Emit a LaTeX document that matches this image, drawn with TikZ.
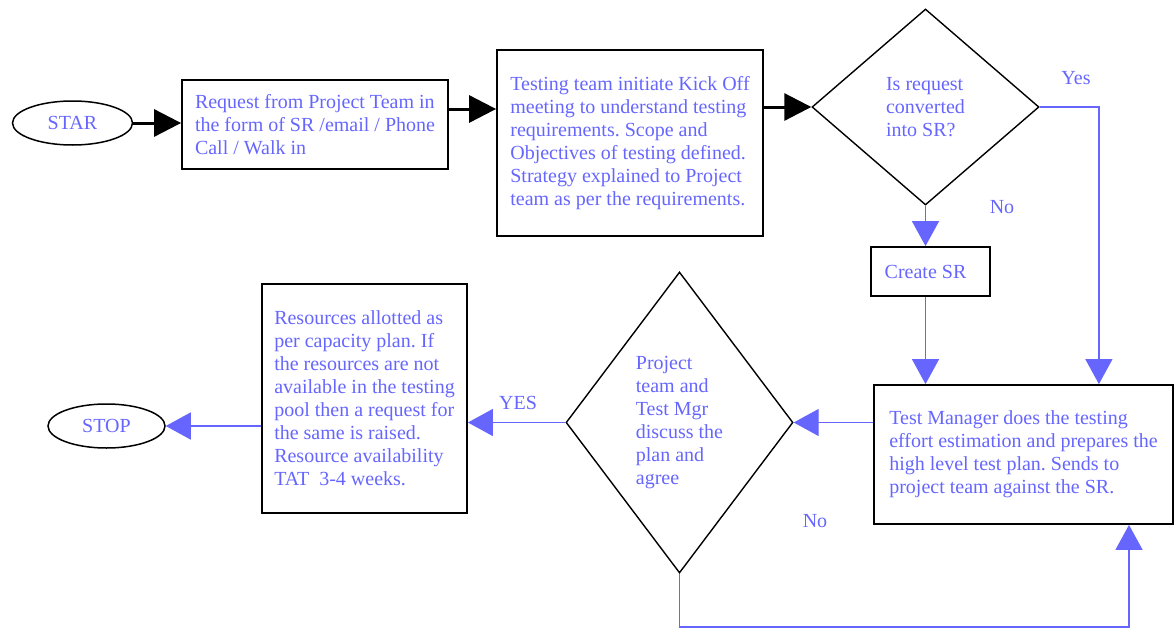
\documentclass[tikz,border=0pt]{standalone}
\usepackage{fontspec}
\setmainfont{Liberation Serif}
\usetikzlibrary{shapes.geometric,arrows.meta,calc}
\definecolor{tblue}{RGB}{102,102,255}
\begin{document}
\frenchspacing
\begin{tikzpicture}[x=1pt,y=-1pt,
  every node/.style={font=\fontsize{20}{23}\selectfont\frenchspacing, text=tblue},
  box/.style={draw=black, line width=1.8pt, rectangle, align=left, inner sep=0pt},
  term/.style={draw=black, line width=1.5pt, ellipse, inner sep=0pt},
  decision/.style={draw=black, line width=1.4pt, diamond, align=left, inner sep=0pt},
  blackarrow/.style={draw=black, line width=3pt, -{Triangle[length=27pt,width=27pt]}},
  bluearrow/.style={draw=tblue, line width=1.3pt, -{Triangle[length=25pt,width=27pt]}},
  lbl/.style={inner sep=0pt}
]
\useasboundingbox (0,0) rectangle (1176,629);

\node[term, minimum width=120pt, minimum height=44pt] (star) at (72.5,123) {STAR};
\node[box, minimum width=266pt, minimum height=89pt] (req) at (315,124.5)
  {Request from Project Team in\\the form of SR /email / Phone\\Call / Walk in};
\node[box, minimum width=266pt, minimum height=186pt] (test) at (630,143)
  {Testing team initiate Kick Off\\meeting to understand testing\\requirements. Scope and\\Objectives of testing defined.\\Strategy explained to Project\\team as per the requirements.};
\node[decision, minimum width=227pt, minimum height=196pt, shape aspect=1.16] (dia1) at (925.5,107)
  {Is request\\converted\hspace*{8pt}\\into SR?};
\node[box, minimum width=119pt, minimum height=49pt] (cr) at (930.5,271.5) {Create SR\hspace*{10pt}};
\node[box, minimum width=299pt, minimum height=139pt] (tm) at (1023.5,454.5)
  {Test Manager does the testing\\effort estimation and prepares the\\high level test plan. Sends to\\project team against the SR.};
\node[decision, minimum width=227pt, minimum height=301pt, shape aspect=0.754] (dia2) at (679.5,422.5)
  {Project\\team and\\Test Mgr\\discuss the\\plan and\\agree};
\node[box, minimum width=205pt, minimum height=229pt] (res) at (364.5,398.5)
  {Resources allotted as\\per capacity plan. If\\the resources are not\\available in the testing\\pool then a request for\\the same is raised.\\Resource availability\\TAT\ \ 3-4 weeks.};
\node[term, minimum width=117pt, minimum height=44pt] (stop) at (106.5,426) {STOP};

\node[lbl] (lyes) at (1076,78) {Yes};
\node[lbl] (lno1) at (1002,207) {No};
\node[lbl] (lyes2) at (518,403) {YES};
\node[lbl] (lno2) at (815,521) {No};

\coordinate (rowtop) at (0,109);
\draw[blackarrow] (star.east) -- (star.east -| req.west);
\draw[blackarrow] (req.east |- rowtop) -- (test.west |- rowtop);
\draw[blackarrow] (test.east |- dia1.west) -- (dia1.west);
\draw[bluearrow] (dia1.east) -| ($(tm.north east)+(-75,0)$);
\draw[bluearrow] (dia1.south) -- (dia1.south |- cr.north);
\draw[bluearrow] (dia1.south |- cr.south) -- (dia1.south |- tm.north);
\draw[bluearrow] (tm.west |- dia2.east) -- (dia2.east);
\draw[bluearrow] (dia2.west) -- (dia2.west -| res.east);
\draw[bluearrow] (res.west |- stop.east) -- (stop.east);
\coordinate (loopc) at (1129,627);
\draw[bluearrow] (dia2.south) |- (loopc) -- (loopc |- tm.south);
\end{tikzpicture}
\end{document}
